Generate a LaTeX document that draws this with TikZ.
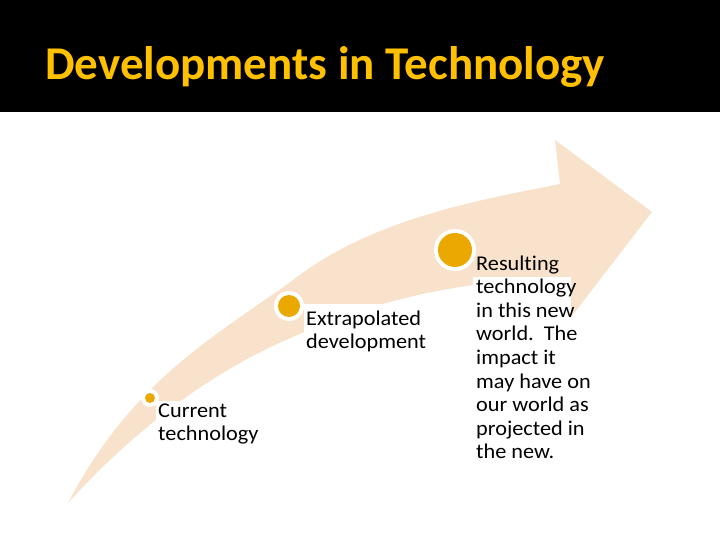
\documentclass[tikz,border=0pt]{standalone}
\usepackage{fontspec}
\setmainfont{Carlito}[FakeStretch=1.06, Ligatures=CommonOff]
\newfontfamily\titlefont{Carlito}
\definecolor{band}{RGB}{249,226,203}
\definecolor{dotc}{RGB}{235,168,0}
\definecolor{titlegold}{RGB}{255,192,0}
\begin{document}
\begin{tikzpicture}[x=1pt,y=-1pt,
  lbl/.style={anchor=base west, inner sep=0pt, font=\fontsize{21}{23.6}\selectfont},
  ring/.style={circle, fill=white, inner sep=0pt},
  core/.style={circle, fill=dotc, inner sep=0pt}]
\useasboundingbox (0,0) rectangle (720,540);
\fill[black] (0,0) rectangle (720,112);
\node[anchor=base west, inner sep=0pt, text=titlegold, font=\titlefont\bfseries\fontsize{47}{50}\selectfont] (title) at (45,80) {Developments in Technology};
% arrow band
\fill[band] (68,503) .. controls (133,379.5) and (213,338) .. (293,280)
  .. controls (373,218) and (480,200) .. (560,184)
  -- (555,140) -- (652,212) -- (565,325) -- (563,278)
  .. controls (473,280) and (383,296) .. (293,337)
  .. controls (203,375) and (128,437) .. (68,503) -- cycle;
% white text backgrounds
\fill[white] (156,401) rectangle (265,448);
\fill[white] (304,304) rectangle (432,356);
\fill[white] (473,277) rectangle (571,468);
% dots
\node[ring, minimum size=18pt] (r1) at (150,398) {};
\node[core, minimum size=10pt] (d1) at (r1) {};
\node[ring, minimum size=30pt] (r2) at (289,306) {};
\node[core, minimum size=22pt] (d2) at (r2) {};
\node[ring, minimum size=42pt] (r3) at (455,250) {};
\node[core, minimum size=34pt] (d3) at (r3) {};
% labels
\node[lbl] (t1) at (158,417) {\parbox[t]{6cm}{\raggedright Current\\technology}};
\node[lbl] (t2) at (306,325) {\parbox[t]{6cm}{\raggedright Extrapolated\\development}};
\node[lbl] (t3) at (476,270) {\parbox[t]{6cm}{\raggedright Resulting\\technology\\in this new\\world.\ \ The\\impact it\\may have on\\our world as\\projected in\\the new.}};
\end{tikzpicture}
\end{document}
